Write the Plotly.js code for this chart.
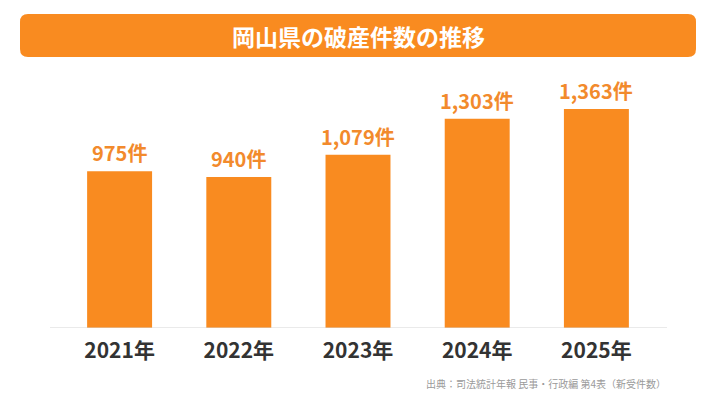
<!DOCTYPE html>
<html>
<head>
<meta charset="utf-8">
<script src="https://cdn.plot.ly/plotly-3.0.1.min.js"></script>
<style>
  html, body { margin: 0; padding: 0; background: #fff; }
  #chart_area { width: 716px; height: 403px; }
</style>
</head>
<body>
<div id="chart_area"></div>
<script>
var years = ['2021年', '2022年', '2023年', '2024年', '2025年'];
var cases = [975, 940, 1079, 1303, 1363];
var chartTitle = '岡山県の破産件数の推移';
var sourceNote = '出典：司法統計年報 民事・行政編 第4表（新受件数）';

var ORANGE = '#F98B20';
var FONT = '"Noto Sans CJK JP", "Noto Sans", sans-serif';

// page size and plot box in pixels
var W = 716, H = 403;
var M = { l: 60, r: 60, t: 87, b: 75 };
var plotW = W - M.l - M.r, plotH = H - M.t - M.b;

// pixel -> paper helpers for decorations
function px(x) { return (x - M.l) / plotW; }
function py(y) { return (H - M.b - y) / plotH; }

function roundedRect(x0, y0, x1, y1, r) {
  var X0 = px(x0), X1 = px(x1), Y0 = py(y0), Y1 = py(y1);
  var rx = r / plotW, ry = r / plotH;
  return 'M' + (X0 + rx) + ',' + Y0 +
    ' L' + (X1 - rx) + ',' + Y0 +
    ' Q' + X1 + ',' + Y0 + ' ' + X1 + ',' + (Y0 - ry) +
    ' L' + X1 + ',' + (Y1 + ry) +
    ' Q' + X1 + ',' + Y1 + ' ' + (X1 - rx) + ',' + Y1 +
    ' L' + (X0 + rx) + ',' + Y1 +
    ' Q' + X0 + ',' + Y1 + ' ' + X0 + ',' + (Y1 + ry) +
    ' L' + X0 + ',' + (Y0 - ry) +
    ' Q' + X0 + ',' + Y0 + ' ' + (X0 + rx) + ',' + Y0 + ' Z';
}

var trace0 = {
  type: 'bar',
  x: years,
  y: cases,
  marker: { color: ORANGE },
  hoverinfo: 'none'
};

var labels = years.map(function (yr, i) {
  return {
    x: yr, y: cases[i], xref: 'x', yref: 'y',
    text: cases[i].toLocaleString('en-US') + '件',
    showarrow: false, yanchor: 'bottom', yshift: 2,
    font: { family: FONT, size: 20, color: '#F28A2C', weight: 'bold' }
  };
});

labels.push({
  x: 0.5, y: py(36), xref: 'paper', yref: 'paper',
  text: chartTitle, showarrow: false, xanchor: 'center', yanchor: 'middle',
  font: { family: FONT, size: 23, color: '#ffffff', weight: 'bold' }
});

labels.push({
  x: px(668), y: py(383), xref: 'paper', yref: 'paper',
  text: sourceNote, showarrow: false, xanchor: 'right', yanchor: 'middle',
  font: { family: FONT, size: 10, color: '#9a9a9a' }
});

var layout = {
  width: W, height: H,
  margin: M,
  paper_bgcolor: '#ffffff', plot_bgcolor: '#ffffff',
  showlegend: false,
  bargap: 0.455,
  xaxis: {
    showgrid: false, zeroline: false, showline: false, ticks: '',
    tickfont: { family: FONT, size: 21, color: '#333333', weight: 'bold' },
    ticklabelstandoff: 8, fixedrange: true
  },
  yaxis: {
    range: [0, 1500], visible: false, showgrid: false, zeroline: false, fixedrange: true
  },
  shapes: [
    { type: 'path', xref: 'paper', yref: 'paper', path: roundedRect(20, 14, 696, 57, 8),
      fillcolor: ORANGE, line: { width: 0 }, layer: 'below' },
    { type: 'line', xref: 'paper', yref: 'y', x0: px(50), x1: px(667), y0: 0, y1: 0,
      line: { color: '#d4d4d4', width: 1 } }
  ],
  annotations: labels
};

var config = { staticPlot: true };

Plotly.newPlot('chart_area', [trace0], layout, config);
</script>
</body>
</html>
